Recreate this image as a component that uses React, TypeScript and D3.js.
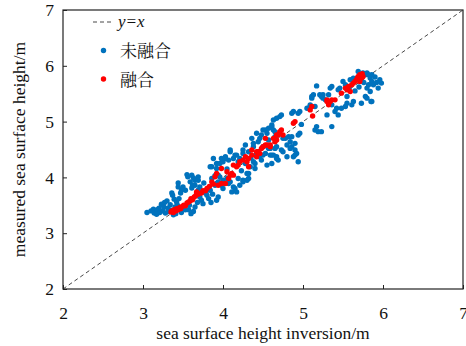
import React, { useEffect, useRef } from "react";
import { axisBottom, axisLeft, scaleLinear, select, format } from "d3";

const xTicks = [2, 3, 4, 5, 6, 7];
const yTicks = [2, 3, 4, 5, 6, 7];

const unfused: [number, number][] = [
  [3.05, 3.37], [3.10, 3.40], [3.13, 3.43], [3.14, 3.36], [3.18, 3.42], [3.21, 3.37], [3.23, 3.52],
  [3.25, 3.40], [3.26, 3.47], [3.28, 3.36], [3.30, 3.58], [3.31, 3.45], [3.34, 3.51], [3.35, 3.41],
  [3.37, 3.68], [3.38, 3.33], [3.39, 3.61], [3.40, 3.47], [3.42, 3.56], [3.43, 3.50], [3.44, 3.90],
  [3.45, 3.62], [3.46, 3.43], [3.48, 3.37], [3.36, 3.72], [3.48, 3.78], [3.44, 3.83], [3.47, 3.72],
  [3.32, 3.39], [3.20, 3.45], [3.50, 3.83], [3.41, 3.35], [3.17, 3.34], [3.27, 3.55],
  [3.53, 3.77], [3.55, 4.05], [3.56, 4.01], [3.59, 3.92], [3.61, 4.04], [3.62, 3.86], [3.63, 3.99],
  [3.61, 3.81], [3.65, 3.86], [3.65, 3.95], [3.67, 3.72], [3.69, 3.95], [3.69, 4.01], [3.73, 3.59],
  [3.80, 3.68], [3.53, 3.42], [3.57, 3.42], [3.63, 3.39], [3.65, 3.47], [3.69, 3.77], [3.71, 3.65],
  [3.71, 3.83], [3.78, 3.72], [3.80, 3.77], [3.84, 3.77], [3.86, 3.98], [3.90, 3.86], [3.90, 4.03],
  [3.92, 3.59], [3.94, 3.92], [3.94, 3.65], [3.98, 3.86], [3.86, 4.19], [3.92, 4.25], [3.84, 4.19],
  [3.88, 4.34], [3.92, 3.89], [3.96, 4.01], [3.94, 4.04], [3.92, 4.16], [3.96, 4.25], [3.75, 3.53],
  [3.58, 3.50], [3.82, 3.62], [3.87, 3.70], [3.76, 3.90], [3.98, 4.34], [3.60, 3.35], [3.68, 3.55],
  [3.85, 3.55],
  [4.00, 4.28], [4.03, 4.37], [4.03, 4.34], [4.07, 4.31], [4.09, 4.46], [4.09, 4.49], [4.13, 4.34],
  [4.15, 4.40], [4.17, 4.40], [4.19, 4.28], [4.21, 4.34], [4.25, 4.49], [4.25, 4.43], [4.28, 4.58],
  [4.32, 4.46], [4.36, 4.70], [4.38, 4.61], [4.38, 4.55], [4.42, 4.79], [4.44, 4.64], [4.42, 4.43],
  [4.44, 4.46], [4.46, 4.70], [4.48, 4.76], [4.46, 4.37], [4.40, 4.25], [4.34, 4.19], [4.32, 3.98],
  [4.25, 3.95], [4.21, 3.86], [4.15, 3.80], [4.09, 3.92], [4.05, 3.98], [4.11, 3.74], [4.00, 3.80],
  [4.17, 3.74], [4.13, 3.83], [4.07, 3.89], [4.00, 3.95], [4.30, 4.07], [4.30, 3.95], [4.25, 3.92],
  [4.19, 3.98], [4.38, 4.28], [4.40, 4.16], [4.32, 4.07], [4.48, 4.31], [4.50, 4.40], [4.50, 4.55],
  [4.28, 4.25], [4.23, 4.12], [4.05, 4.15], [4.35, 4.35],
  [4.53, 4.85], [4.57, 4.88], [4.61, 4.91], [4.63, 5.03], [4.67, 5.06], [4.65, 4.82], [4.69, 4.76],
  [4.57, 4.67], [4.63, 4.40], [4.67, 4.34], [4.53, 4.43], [4.57, 4.52], [4.50, 4.85], [4.55, 4.79],
  [4.61, 4.94], [4.63, 4.85], [4.71, 5.09], [4.73, 5.12], [4.86, 5.15], [4.88, 5.18], [4.94, 5.15],
  [4.65, 4.73], [4.78, 4.70], [4.84, 4.64], [4.86, 4.73], [4.96, 4.79], [4.90, 4.49], [4.67, 4.37],
  [4.75, 4.46], [4.65, 4.52], [4.59, 4.40], [4.80, 4.37], [4.88, 4.37], [4.92, 4.43], [4.94, 4.28],
  [4.90, 4.40], [4.86, 4.55], [4.80, 4.58], [4.84, 4.52], [4.90, 4.61], [4.94, 4.76], [4.67, 4.55],
  [4.73, 4.49], [4.69, 4.31], [4.61, 4.40], [4.61, 4.25], [4.55, 4.22], [4.59, 4.52], [4.75, 4.70],
  [4.82, 4.73], [4.98, 4.95], [4.96, 5.18],
  [5.05, 5.24], [5.09, 5.30], [5.17, 4.91], [5.15, 4.85], [5.19, 4.82], [5.23, 5.45], [5.25, 5.48],
  [5.11, 5.45], [5.13, 5.48], [5.36, 4.91], [5.42, 5.24], [5.44, 5.12], [5.36, 5.30], [5.34, 5.60],
  [5.36, 5.63], [5.44, 5.57], [5.46, 5.60], [5.50, 5.72], [5.53, 5.66], [5.59, 5.75], [5.63, 5.78],
  [5.67, 5.78], [5.78, 5.84], [5.82, 5.84], [5.84, 5.78], [5.86, 5.72], [5.82, 5.66], [5.88, 5.66],
  [5.80, 5.60], [5.94, 5.60], [5.98, 5.69], [5.96, 5.75], [5.73, 5.72], [5.84, 5.54], [5.78, 5.45],
  [5.80, 5.42], [5.28, 5.39], [5.21, 5.48], [5.40, 5.18], [5.48, 5.24], [5.55, 5.33], [5.61, 5.30],
  [5.63, 5.36], [5.53, 5.27], [5.73, 5.33], [5.86, 5.36], [5.30, 5.12], [5.23, 4.82], [5.69, 5.90],
  [5.75, 5.87], [5.80, 5.87], [5.70, 5.62], [5.76, 5.70], [5.90, 5.80], [5.65, 5.55], [5.58, 5.62],
  [5.92, 5.70], [5.86, 5.84], [5.17, 5.64], [5.11, 5.42], [5.25, 5.42], [5.32, 5.48], [5.09, 5.27],
  [5.15, 5.27], [5.55, 5.45], [5.85, 5.36],
];

const fused: [number, number][] = [
  [3.35, 3.38], [3.36, 3.40], [3.38, 3.37], [3.39, 3.42], [3.41, 3.40], [3.42, 3.44], [3.44, 3.42],
  [3.46, 3.46], [3.47, 3.44], [3.49, 3.48], [3.51, 3.50], [3.53, 3.49], [3.55, 3.54], [3.57, 3.56],
  [3.59, 3.58], [3.60, 3.62], [3.62, 3.60], [3.64, 3.65], [3.67, 3.74], [3.66, 3.67], [3.69, 3.70],
  [3.73, 3.72], [3.75, 3.76], [3.80, 3.80], [3.78, 3.76], [3.83, 3.84], [3.86, 3.92], [3.88, 3.88],
  [3.90, 4.01], [3.94, 3.86], [3.92, 4.07], [3.98, 4.16], [3.98, 3.89], [4.03, 3.89], [4.05, 4.10],
  [4.07, 3.98], [4.09, 4.04], [4.11, 4.07], [4.13, 4.04], [4.13, 4.22], [4.17, 4.19], [4.19, 4.22],
  [4.21, 4.28], [4.25, 4.31], [4.28, 4.37], [4.30, 4.28], [4.32, 4.34], [4.32, 4.19], [4.36, 4.40],
  [4.36, 4.49], [4.42, 4.37], [4.42, 4.46], [4.44, 4.46], [4.48, 4.52], [4.50, 4.55], [4.53, 4.58],
  [4.55, 4.58], [4.59, 4.58], [4.59, 4.55], [4.63, 4.70], [4.65, 4.64], [4.67, 4.76], [4.67, 4.67],
  [4.69, 4.76], [4.71, 4.82], [4.73, 4.85], [4.75, 4.76], [4.53, 4.70], [4.46, 4.43], [4.88, 4.97],
  [4.90, 5.00], [5.09, 5.21], [5.11, 5.27], [5.12, 5.10], [5.30, 5.39], [5.32, 5.30], [5.34, 5.36],
  [5.30, 5.36], [5.36, 5.39], [5.40, 5.39], [5.48, 5.51], [5.53, 5.60], [5.55, 5.57], [5.57, 5.63],
  [5.59, 5.54], [5.61, 5.66], [5.63, 5.69], [5.65, 5.72], [5.67, 5.75], [5.69, 5.81], [5.71, 5.84],
  [5.71, 5.72], [5.73, 5.78], [5.75, 5.81], [5.68, 5.78], [5.74, 5.86],
];

const legendLabels = ["y=x", "未融合", "融合"];

const serif = "'Liberation Serif', 'Times New Roman', serif";
const cjk = "'Liberation Serif', 'Noto Serif CJK SC', 'Noto Sans CJK SC', serif";

export default function App() {
  const width = 466,
    height = 346;
  const marginLeft = 63,
    marginRight = 3,
    marginTop = 10,
    marginBottom = 57;

  const xAxisRef = useRef<SVGGElement>(null);
  const yAxisRef = useRef<SVGGElement>(null);

  const xScale = scaleLinear().domain([2, 7]).range([marginLeft, width - marginRight]);
  const yScale = scaleLinear().domain([2, 7]).range([height - marginBottom, marginTop]);

  useEffect(() => {
    const xAxis = axisBottom(xScale).tickValues(xTicks).tickFormat(format("d")).tickSize(-4).tickPadding(18);
    const yAxis = axisLeft(yScale).tickValues(yTicks).tickFormat(format("d")).tickSize(-4).tickPadding(9);

    const gx = select(xAxisRef.current!).call(xAxis);
    gx.attr("font-family", serif).attr("font-size", 17.5);
    gx.select(".domain").remove();
    gx.selectAll(".tick line").attr("stroke", "#222");
    gx.selectAll(".tick text").attr("fill", "#111");

    const gy = select(yAxisRef.current!).call(yAxis);
    gy.attr("font-family", serif).attr("font-size", 17.5);
    gy.select(".domain").remove();
    gy.selectAll(".tick line").attr("stroke", "#222");
    gy.selectAll(".tick text").attr("fill", "#111");
  }, []);

  const plotW = width - marginLeft - marginRight;
  const plotH = height - marginTop - marginBottom;

  return (
    <svg
      width={width}
      height={height}
      style={{ position: "absolute", left: 0, top: 0, background: "#fff" }}
    >
      <line
        x1={xScale(2)}
        y1={yScale(2)}
        x2={xScale(7)}
        y2={yScale(7)}
        stroke="#333"
        strokeWidth={0.9}
        strokeDasharray="4 3"
      />
      {unfused.map((d, i) => (
        <circle key={"u" + i} cx={xScale(d[0])} cy={yScale(d[1])} r={2.7} fill="#0072BD" />
      ))}
      {fused.map((d, i) => (
        <circle key={"f" + i} cx={xScale(d[0])} cy={yScale(d[1])} r={2.7} fill="#FF0000" />
      ))}

      <g ref={xAxisRef} transform={`translate(0, ${height - marginBottom})`} />
      <g ref={yAxisRef} transform={`translate(${marginLeft}, 0)`} />
      <rect
        x={marginLeft}
        y={marginTop}
        width={plotW}
        height={plotH}
        fill="none"
        stroke="#222"
        strokeWidth={1.2}
      />

      {/* legend */}
      <g>
        <line x1={93} y1={22} x2={113} y2={22} stroke="#333" strokeWidth={0.9} strokeDasharray="4 3" />
        <text x={118} y={27} fontFamily={serif} fontSize={17} fontStyle="italic" fill="#111">
          {legendLabels[0]}
        </text>
        <circle cx={103.5} cy={50.5} r={2.7} fill="#0072BD" />
        <text x={120} y={57} fontFamily={cjk} fontSize={17} fill="#111">
          {legendLabels[1]}
        </text>
        <circle cx={103.5} cy={79} r={2.7} fill="#FF0000" />
        <text x={120} y={85.5} fontFamily={cjk} fontSize={17} fill="#111">
          {legendLabels[2]}
        </text>
      </g>

      <text
        x={marginLeft + plotW / 2}
        y={339}
        textAnchor="middle"
        fontFamily={serif}
        fontSize={17.5}
        fill="#111"
      >
        sea surface height inversion/m
      </text>
      <text
        transform={`translate(25, ${marginTop + plotH / 2}) rotate(-90)`}
        textAnchor="middle"
        fontFamily={serif}
        fontSize={17.5}
        fill="#111"
      >
        measured sea surface height/m
      </text>
    </svg>
  );
}
